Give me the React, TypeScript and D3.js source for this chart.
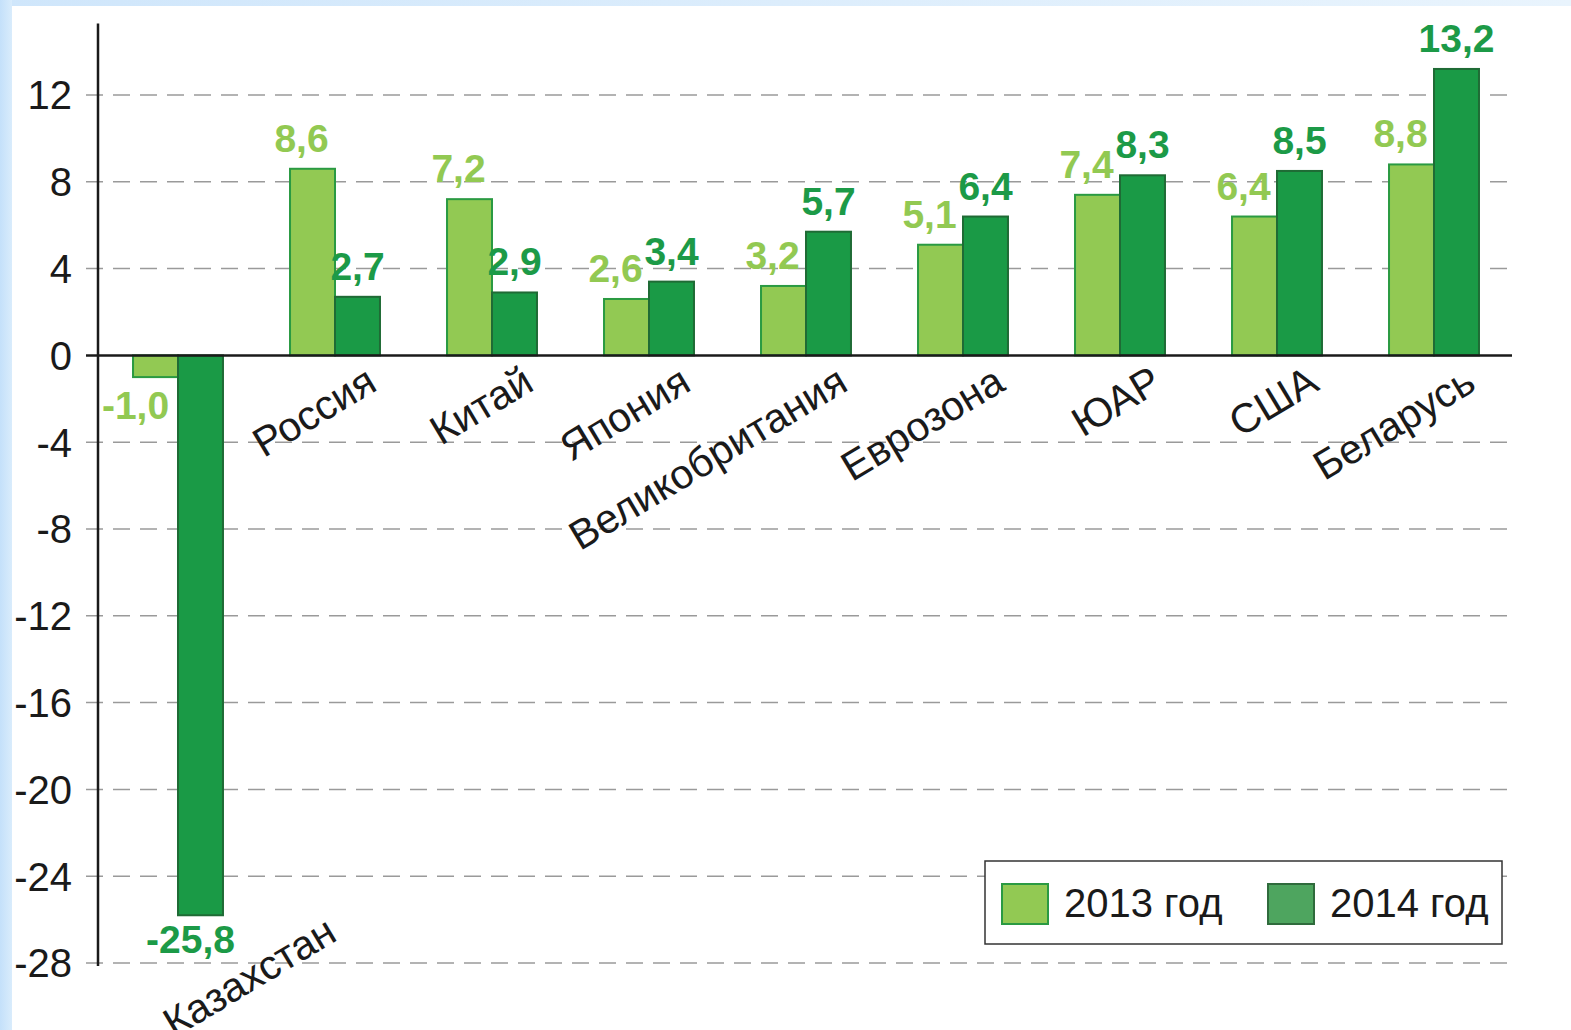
import React from "react";
import * as d3 from "d3";

const categories = ["Казахстан", "Россия", "Китай", "Япония", "Великобритания", "Еврозона", "ЮАР", "США", "Беларусь"];
const values2013 = [-1.0, 8.6, 7.2, 2.6, 3.2, 5.1, 7.4, 6.4, 8.8];
const values2014 = [-25.8, 2.7, 2.9, 3.4, 5.7, 6.4, 8.3, 8.5, 13.2];
const valueLabels2013 = ["-1,0", "8,6", "7,2", "2,6", "3,2", "5,1", "7,4", "6,4", "8,8"];
const valueLabels2014 = ["-25,8", "2,7", "2,9", "3,4", "5,7", "6,4", "8,3", "8,5", "13,2"];
const yTicks = [12, 8, 4, 0, -4, -8, -12, -16, -20, -24, -28];
const seriesNames = ["2013 год", "2014 год"];

const W = 1571;
const H = 1030;
const FONT = "'Liberation Sans', Arial, Helvetica, sans-serif";

const LIGHT_FILL = "#92c953";
const LIGHT_STROKE = "#2a9a42";
const DARK_FILL = "#1a9a46";
const DARK_STROKE = "#1f6b35";
const LIGHT_TEXT = "#92c952";
const DARK_TEXT = "#1c9a47";

export default function App() {
  const x = d3
    .scaleBand<string>()
    .domain(categories)
    .range([99.5, 1512.5])
    .paddingInner(0.427)
    .paddingOuter(0.427 / 2);
  const sub = d3.scaleBand<string>().domain(["2013", "2014"]).range([0, x.bandwidth()]);
  const y = d3.scaleLinear().domain([-28, 12]).range([963, 95]);
  const gridX0 = 86;
  const gridX1 = 1512;
  const axisX = 98;

  const bars: React.ReactNode[] = [];
  const labels: React.ReactNode[] = [];
  categories.forEach((c, i) => {
    const series = [
      { key: "2013", v: values2013[i], lab: valueLabels2013[i], fill: LIGHT_FILL, stroke: LIGHT_STROKE, tc: LIGHT_TEXT, dx: -11 },
      { key: "2014", v: values2014[i], lab: valueLabels2014[i], fill: DARK_FILL, stroke: DARK_STROKE, tc: DARK_TEXT, dx: 0 },
    ];
    series.forEach((s) => {
      const bx = (x(c) as number) + (sub(s.key) as number);
      const bw = sub.bandwidth();
      const y0 = y(0);
      const yv = y(s.v);
      const top = Math.min(y0, yv);
      const h = Math.abs(yv - y0);
      bars.push(
        <rect key={c + s.key} x={bx} y={top} width={bw} height={h} fill={s.fill} stroke={s.stroke} strokeWidth={2} />
      );
      const cx = bx + bw / 2;
      if (s.v >= 0) {
        labels.push(
          <text key={"l" + c + s.key} x={cx + s.dx} y={yv - 17} textAnchor="middle" fontSize={39} fontWeight="bold" fill={s.tc} fontFamily={FONT}>
            {s.lab}
          </text>
        );
      } else {
        const off = s.key === "2013" ? -20 : -10;
        const dy = s.key === "2013" ? 42 : 38;
        labels.push(
          <text key={"l" + c + s.key} x={cx + off} y={yv + dy} textAnchor="middle" fontSize={39} fontWeight="bold" fill={s.tc} fontFamily={FONT}>
            {s.lab}
          </text>
        );
      }
    });
  });

  const catLabels = categories.map((c, i) => {
    const center = (x(c) as number) + x.bandwidth() / 2;
    const minV = Math.min(values2013[i], values2014[i]);
    let ax: number;
    let ay: number;
    if (minV < -5) {
      ax = center + 161;
      ay = y(minV) + 24;
    } else {
      ax = center + 44;
      ay = 389;
    }
    return (
      <text key={"c" + c} x={0} y={0} transform={`translate(${ax},${ay}) rotate(-31)`} textAnchor="end" fontSize={41} fill="#1a1a1a" fontFamily={FONT}>
        {c}
      </text>
    );
  });

  return (
    <div style={{ position: "fixed", left: 0, top: 0, width: W, height: H }}>
      <svg width={W} height={H} style={{ display: "block" }}>
        <defs>
          <linearGradient id="topg" x1="0" x2="1" y1="0" y2="0">
            <stop offset="0" stopColor="#cfe6fb" />
            <stop offset="1" stopColor="#e9f4fd" />
          </linearGradient>
          <linearGradient id="leftg" x1="0" x2="1" y1="0" y2="0">
            <stop offset="0" stopColor="#c4e0fa" />
            <stop offset="1" stopColor="#d9ecfc" />
          </linearGradient>
        </defs>
        <rect x={0} y={0} width={W} height={H} fill="#ffffff" />
        <rect x={0} y={0} width={W} height={6} fill="url(#topg)" />
        <rect x={0} y={0} width={12} height={H} fill="url(#leftg)" />

        {yTicks.filter((t) => t !== 0).map((t) => (
          <line key={"g" + t} x1={gridX0} x2={gridX1} y1={y(t)} y2={y(t)} stroke="#9a9a9a" strokeWidth={1.5} strokeDasharray="17 10" />
        ))}
        {yTicks.map((t) => (
          <text key={"t" + t} x={72} y={y(t)} dy="0.36em" textAnchor="end" fontSize={40} fill="#1a1a1a" fontFamily={FONT}>
            {String(t)}
          </text>
        ))}

        {bars}

        <line x1={gridX0} x2={gridX1} y1={y(0)} y2={y(0)} stroke="#1a1a1a" strokeWidth={2.5} />
        <line x1={axisX} x2={axisX} y1={y(15.3)} y2={y(-28) + 3} stroke="#1a1a1a" strokeWidth={2.5} />

        {labels}
        {catLabels}

        <g>
          <rect x={985} y={861} width={517} height={83} fill="#ffffff" stroke="#333333" strokeWidth={1.5} />
          <rect x={1002} y={884} width={46} height={40} fill={LIGHT_FILL} stroke={LIGHT_STROKE} strokeWidth={2} />
          <text x={1064} y={917} fontSize={40} fill="#1a1a1a" fontFamily={FONT}>{seriesNames[0]}</text>
          <rect x={1268} y={884} width={46} height={40} fill="#4ea55f" stroke="#2f6b3c" strokeWidth={2} />
          <text x={1330} y={917} fontSize={40} fill="#1a1a1a" fontFamily={FONT}>{seriesNames[1]}</text>
        </g>
      </svg>
    </div>
  );
}
